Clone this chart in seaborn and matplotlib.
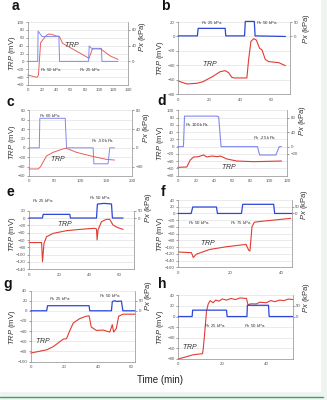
import matplotlib
matplotlib.use("Agg")
import matplotlib.pyplot as plt
import seaborn as sns
from matplotlib.patches import Rectangle
from matplotlib.lines import Line2D

sns.set_theme(style="white")
plt.rcParams['font.family'] = ['Liberation Sans', 'DejaVu Sans']
plt.rcParams['mathtext.fontset'] = 'custom'
plt.rcParams['mathtext.rm'] = 'Liberation Sans'
plt.rcParams['mathtext.it'] = 'Liberation Sans:italic'

W, H = 327, 400

# ---- panel a ----
a_trp_t = [0, 13, 15, 18, 25, 29, 33.5, 40, 44, 48.7, 83.5, 85.6, 90, 94, 102, 115, 126]
a_trp_v = [-34.6, -40.5, -35, 47.5, 64, 69.5, 68.7, 64.4, 64, 46, 10, 7.7, 30.6, 32, 31.4, 14, 5]
a_px_t = [0, 14, 14.5, 20, 43.5, 44.5, 85, 85.8, 89, 103, 103.6, 126]
a_px_v = [0, 0, 77, 63, 63, 0, 0, 39, 33, 33, 0, 0]

# ---- panel b ----
b_trp_t = [0, 5.4, 11.9, 16, 22.7, 27, 30.2, 32.4, 34.5, 36, 44.2, 45.3, 46.8, 48.6, 50.3, 52.4, 54, 56, 58.3, 64.7, 69]
b_trp_v = [-61.6, -65.7, -64.8, -62.5, -54.7, -48.7, -47.3, -50, -56.5, -57.4, -57.4, -32.5, -7, -3, -5, -16.4, -18.7, -31.6, -34.8, -36.2, -40.4]
b_px_t = [0, 12.3, 12.8, 30.2, 30.6, 42.7, 43.2, 49, 49.5, 69]
b_px_v = [2, 2, 28, 28, 2, 2, 52, 52, 2, 0]

# ---- panel c ----
c_trp_t = [0, 18, 22.6, 27.7, 34, 47, 60, 69.7, 76, 92, 111.6, 131, 150, 166]
c_trp_v = [-45, -45, -40, -29.5, -17.4, -9.5, -4.6, -1, -2.4, -9.5, -15, -20, -24.5, -26]
c_px_t = [0, 20, 21, 70.3, 72.9, 124.5, 126, 153.5, 156.8, 166]
c_px_v = [0, 0, 63, 63, 0, 0, -34, -34, 0, 0]

# ---- panel d ----
d_trp_t = [0, 10, 13.7, 17.4, 22.9, 28.4, 32, 37.7, 43.2, 47, 54, 65, 83.8, 114]
d_trp_v = [-57, -56, -37, -28.6, -27.6, -23, -28.6, -25.8, -27.6, -26, -34, -39.6, -41.4, -39.6]
d_px_t = [0, 6.3, 7.5, 43.2, 45, 47.6, 87.5, 90, 107.8, 111.5, 114]
d_px_v = [0, 0, 84, 84, 82, 0, 0, -23, -23, 0, 0]

# ---- panel e ----
e_trp_t = [0, 8.4, 9, 10, 11.7, 16, 25, 34, 43.8, 45, 45.4, 46, 48.3, 51.6, 53.8, 56, 59, 62.7]
e_trp_v = [-67, -67, -119, -69, -51, -42, -34.5, -31, -28, -30, -60, -33, -10, -3.6, -3.6, -19, -26, -31]
e_px_t = [0, 8.9, 9.5, 27.2, 27.6, 45, 45.6, 50, 55, 55.6, 62.7]
e_px_v = [0, 0, 25, 25, 0, 0, 95, 100, 96, 0, 0]

# ---- panel f ----
f_trp_t = [0, 5.1, 5.8, 7, 12.2, 18.6, 26.3, 27.3, 27.8, 28.6, 29.5, 31.4, 43.6]
f_trp_v = [-114.6, -116.5, -131, -121, -107, -99, -92, -109, -111.7, -39, -26, -24, -14.6]
f_px_t = [0, 5, 5.6, 14.8, 15.2, 24.5, 25, 37, 37.4, 44]
f_px_v = [0, 0, 48, 48, 0, 0, 68, 68, 0, 0]

# ---- panel g ----
g_trp_t = [0, 9.5, 13.4, 19.3, 21.3, 23.3, 25.3, 29.2, 33, 34.7, 36, 39, 43, 47, 48.5, 49.3, 50.9, 52.3, 54.9, 62]
g_trp_v = [-83.3, -77, -70.7, -56, -55, -38.7, -24, -15.3, -10.7, -10, -32, -38.7, -38, -42, -27.3, -42, -35, -10.7, -6.7, -6.7]
g_px_t = [0, 9.5, 10, 34.7, 35.1, 48, 48.5, 50, 51, 53.9, 54.8, 62]
g_px_v = [0, 0, 25, 25, 0, 0, 45, 50, 46, 48, 0, 0]

# ---- panel h ----
h_trp_t = [0, 3.8, 6.8, 11, 11.3, 12, 12.8, 13.6, 14.5, 15.8, 17, 18.5, 20, 21.9, 24, 26, 28, 31, 31.7, 33, 35.5, 37, 40, 42, 44, 46, 48, 50, 52]
h_trp_v = [-80, -75.6, -72, -70, -62, -31, 9.5, 23.7, 30, 26, 31, 29, 33, 31, 34, 32, 35, 34, 21.8, 24, 23.7, 27, 26, 30, 28, 31, 30, 33, 32]
h_px_t = [0, 6.3, 6.5, 21.9, 22.2, 31.2, 31.4, 41, 41.3, 52]
h_px_v = [0, 0, 30, 30, 0, 0, 53, 53, 0, 0]

RED = '#e23b32'
BLUE = '#2d46d8'
RED_L = '#e4605a'
BLUE_L = '#8088ee'
GRAY = '#8c8c8c'

fig = plt.figure(figsize=(W / 100, H / 100), dpi=100)
fig.patch.set_facecolor('#eef5f1')
fig.patches.append(Rectangle((0, 1 - 392 / H), 321 / W, 392 / H, transform=fig.transFigure,
                             facecolor='white', edgecolor='none', zorder=-10))
fig.lines.append(Line2D([0, 323 / W], [1 - 397 / H, 1 - 397 / H], transform=fig.transFigure,
                        color='#3aa55a', lw=1.0))


def box(l, t, r, b):
    return [l / W, 1 - b / H, (r - l) / W, (b - t) / H]


def style(ax, sides):
    for s in ['top', 'left', 'right', 'bottom']:
        ax.spines[s].set_visible(s in sides)
        ax.spines[s].set_color(GRAY)
        ax.spines[s].set_linewidth(0.5)
    ax.tick_params(axis='both', labelsize=3.2, length=1.5, width=0.4, pad=1,
                   colors='#555555', direction='out')


def panel(letter, rect, xlim, xticks, ylim, yticks, scale, rticks,
          trp, px, red, blue, lw_red, lw_blue, notes, lab):
    ax = fig.add_axes(box(*rect))
    ax.set_facecolor('none')
    ax.set_xlim(*xlim)
    ax.set_ylim(*ylim)
    ax.set_xticks(xticks)
    ax.set_yticks(yticks)
    ax.grid(axis='y', color='#dcdcdc', lw=0.4)
    style(ax, ['left', 'bottom'])
    sns.lineplot(x=trp[0], y=trp[1], ax=ax, color=red, lw=lw_red,
                 estimator=None, sort=False, clip_on=False)
    ax2 = ax.twinx()
    ax2.set_ylim(ylim[0] * scale, ylim[1] * scale)
    ax2.set_yticks(rticks)
    style(ax2, ['right'])
    sns.lineplot(x=px[0], y=px[1], ax=ax2, color=blue, lw=lw_blue,
                 estimator=None, sort=False, clip_on=False)
    ax.set_xlabel('')
    ax.set_ylabel('')
    ax2.set_ylabel('')
    for (x, y, s, fs) in notes:
        ax.text(x, y, s, fontsize=fs, color='#333333', ha='center', va='center')
    lx, ly, rx, ry, px_, py_ = lab
    fig.text(lx / W, 1 - ly / H, r'$\mathit{TRP}$ (mV)', rotation=90, fontsize=5.5,
             ha='center', va='center', color='#333333')
    fig.text(rx / W, 1 - ry / H, r'$\mathit{Px}$ (kPa)', rotation=90, fontsize=5.5,
             ha='center', va='center', color='#333333')
    fig.text(px_ / W, 1 - py_ / H, letter, fontsize=10,
             fontweight='bold', ha='center', va='center', color='#111111')
    return ax


PX = r'$\mathit{Px}$ '
TRP = r'$\mathit{TRP}$'

panel('a', (27.7, 22, 128, 85), (0, 140), range(0, 141, 20), (-60, 100), range(-60, 101, 20),
      1.0, [0, 40, 80], (a_trp_t, a_trp_v), (a_px_t, a_px_v), RED_L, BLUE_L, 0.7, 0.7,
      [(33, -20, PX + '50 kPa', 3.2), (87, -20, PX + '25 kPa', 3.2), (62, 43, TRP, 5)],
      (12, 53, 143, 37, 15, 6))

panel('b', (178.3, 22, 290, 94.3), (0, 72), range(0, 61, 20), (-80, 20), range(-80, 21, 20),
      2.5, [0, 50], (b_trp_t, b_trp_v), (b_px_t, b_px_v), RED, BLUE, 0.8, 0.9,
      [(22, 20, PX + '25 kPa', 3.2), (57, 20, PX + '50 kPa', 3.2), (20.5, -38, TRP, 5)],
      (161, 58, 306, 29, 165, 6))

panel('c', (29, 110.3, 132, 176), (0, 200), range(0, 201, 50), (-60, 80), range(-60, 81, 20),
      1.0, [-40, 0, 40, 80], (c_trp_t, c_trp_v), (c_px_t, c_px_v), RED_L, BLUE_L, 0.7, 0.7,
      [(40.6, 68, PX + '60 kPa', 3.2), (144, 16.7, PX + '-50 kPa', 3.2), (57, -22, TRP, 5)],
      (12, 142, 147, 128, 10, 102))

panel('d', (177.7, 110.3, 287, 175.7), (0, 120), range(0, 121, 20), (-80, 100), range(-80, 101, 20),
      1.0, [-20, 0, 40, 80], (d_trp_t, d_trp_v), (d_px_t, d_px_v), RED, BLUE_L, 0.8, 0.8,
      [(21, 61.4, PX + '100 kPa', 3.2), (95, 24.7, PX + '-25 kPa', 3.2), (56, -55, TRP, 5)],
      (161, 143, 303, 121, 162, 101))

panel('e', (29, 210.7, 134, 269.3), (0, 70), range(0, 61, 20), (-140, 20), range(-140, 21, 20),
      2.5, [0, 50], (e_trp_t, e_trp_v), (e_px_t, e_px_v), RED, BLUE, 0.8, 0.9,
      [(9.5, 49, PX + '25 kPa', 3.2), (47, 56, PX + '50 kPa', 3.2), (24, -14, TRP, 5)],
      (12, 234, 148, 208, 10, 192))

panel('f', (178.3, 200, 291.7, 267.3), (0, 44), range(0, 41, 20), (-160, 40), range(-160, 41, 20),
      2.5, [0, 50], (f_trp_t, f_trp_v), (f_px_t, f_px_v), RED, BLUE, 0.8, 0.9,
      [(8, -28, PX + '50 kPa', 3.2), (24.5, -28, PX + '75 kPa', 3.2), (11.5, -85, TRP, 5)],
      (161, 234, 305, 205, 163, 192))

panel('g', (30.7, 290.5, 135, 361.5), (0, 62), range(0, 61, 20), (-100, 40), range(-100, 41, 20),
      2.5, [0, 50], (g_trp_t, g_trp_v), (g_px_t, g_px_v), RED, BLUE, 0.8, 0.9,
      [(17.4, 23.3, PX + '25 kPa', 3.2), (47, 30, PX + '50 kPa', 3.2), (7.5, -58.7, TRP, 5)],
      (12, 327, 149, 296, 8, 284))

panel('h', (178.3, 295.3, 292.7, 359), (0, 52), range(0, 41, 20), (-80, 40), range(-80, 41, 20),
      2.5, [0, 50], (h_trp_t, h_trp_v), (h_px_t, h_px_v), RED, BLUE, 0.8, 0.9,
      [(16.6, -17, PX + '25 kPa', 3.2), (34.7, -17, PX + '50 kPa', 3.2), (5.3, -56.7, TRP, 5)],
      (161, 327, 307, 298, 162, 284))

fig.text(160 / W, 1 - 380 / H, 'Time (min)', fontsize=7, ha='center', va='center', color='#222222')

fig.savefig('out.png', dpi=100, facecolor=fig.get_facecolor())
